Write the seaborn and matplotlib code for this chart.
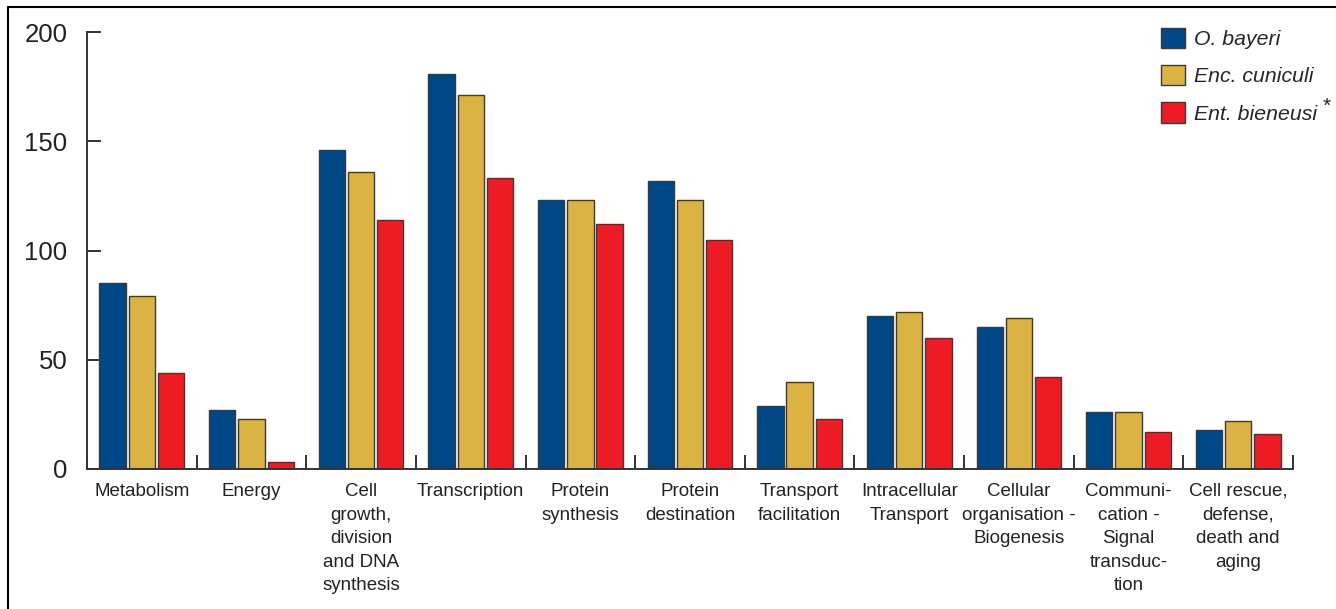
import pandas as pd
import seaborn as sns
import matplotlib.pyplot as plt
from matplotlib.lines import Line2D

# Gene counts per functional category
categories = [
    "Metabolism", "Energy", "Cell\ngrowth,\ndivision\nand DNA\nsynthesis",
    "Transcription", "Protein\nsynthesis", "Protein\ndestination",
    "Transport\nfacilitation", "Intracellular\nTransport",
    "Cellular\norganisation -\nBiogenesis", "Communi-\ncation -\nSignal\ntransduc-\ntion",
    "Cell rescue,\ndefense,\ndeath and\naging",
]
o_bayeri = [85, 27, 146, 181, 123, 132, 29, 70, 65, 26, 18]
enc_cuniculi = [79, 23, 136, 171, 123, 123, 40, 72, 69, 26, 22]
ent_bieneusi = [44, 3, 114, 133, 112, 105, 23, 60, 42, 17, 16]
species = ["O. bayeri", "Enc. cuniculi", "Ent. bieneusi"]
colors = ["#004785", "#DBB244", "#ED1C24"]

df = pd.DataFrame({
    "category": categories * 3,
    "count": o_bayeri + enc_cuniculi + ent_bieneusi,
    "species": [s for s in species for _ in categories],
})

sns.set_style("white")
plt.rcParams["font.family"] = ["Liberation Sans", "DejaVu Sans"]

fig = plt.figure(figsize=(13.36, 6.09), dpi=100)
ax = fig.add_axes([87/1336, 1 - 469/609, (1293 - 87)/1336, (469 - 32)/609])

sns.barplot(data=df, x="category", y="count", hue="species", palette=colors,
            saturation=1, width=0.8, gap=0.1, edgecolor="#3a3a3a", linewidth=1, ax=ax)

ax.set_xlim(-0.5, len(categories) - 0.5)
ax.set_ylim(0, 200)
ax.set_yticks([0, 50, 100, 150, 200])
ax.set_xlabel("")
ax.set_ylabel("")

for s in ["top", "right"]:
    ax.spines[s].set_visible(False)
for s in ["left", "bottom"]:
    ax.spines[s].set_color("#333333")
    ax.spines[s].set_linewidth(1.4)

ax.tick_params(axis="y", left=True, direction="in", length=10, width=1.4,
               color="#333333", labelsize=18.5, pad=14, labelcolor="#222222")
ax.tick_params(axis="x", which="major", bottom=True, length=0, labelsize=13.5,
               pad=10, labelcolor="#222222")
ax.set_xticks([i - 0.5 for i in range(len(categories) + 1)], minor=True)
ax.tick_params(axis="x", which="minor", bottom=True, direction="in", length=10,
               width=1.4, color="#333333")
for lbl in ax.get_xticklabels():
    lbl.set_linespacing(1.51)
    lbl.set_verticalalignment("top")

handles, _ = ax.get_legend_handles_labels()
ax.legend(handles, species, loc="upper left", bbox_to_anchor=(1150/1336, 1 - 17/609),
          bbox_transform=fig.transFigure, frameon=False,
          prop={"style": "italic", "size": 15.3}, handlelength=1.15,
          handleheight=1.1, handletextpad=0.4, labelspacing=0.75, borderpad=0)
# asterisk after Ent. bieneusi
fig.text(1323/1336, 1 - 112/609, "*", fontsize=15, color="#222222",
         ha="left", va="baseline")

# Outer frame (left and top edges)
fig.add_artist(Line2D([8/1336, 8/1336], [0, 1 - 7/609], color="black", lw=1.5,
                      transform=fig.transFigure))
fig.add_artist(Line2D([8/1336, 1], [1 - 7/609, 1 - 7/609], color="black", lw=1.5,
                      transform=fig.transFigure))

fig.savefig("out.png", dpi=100)
